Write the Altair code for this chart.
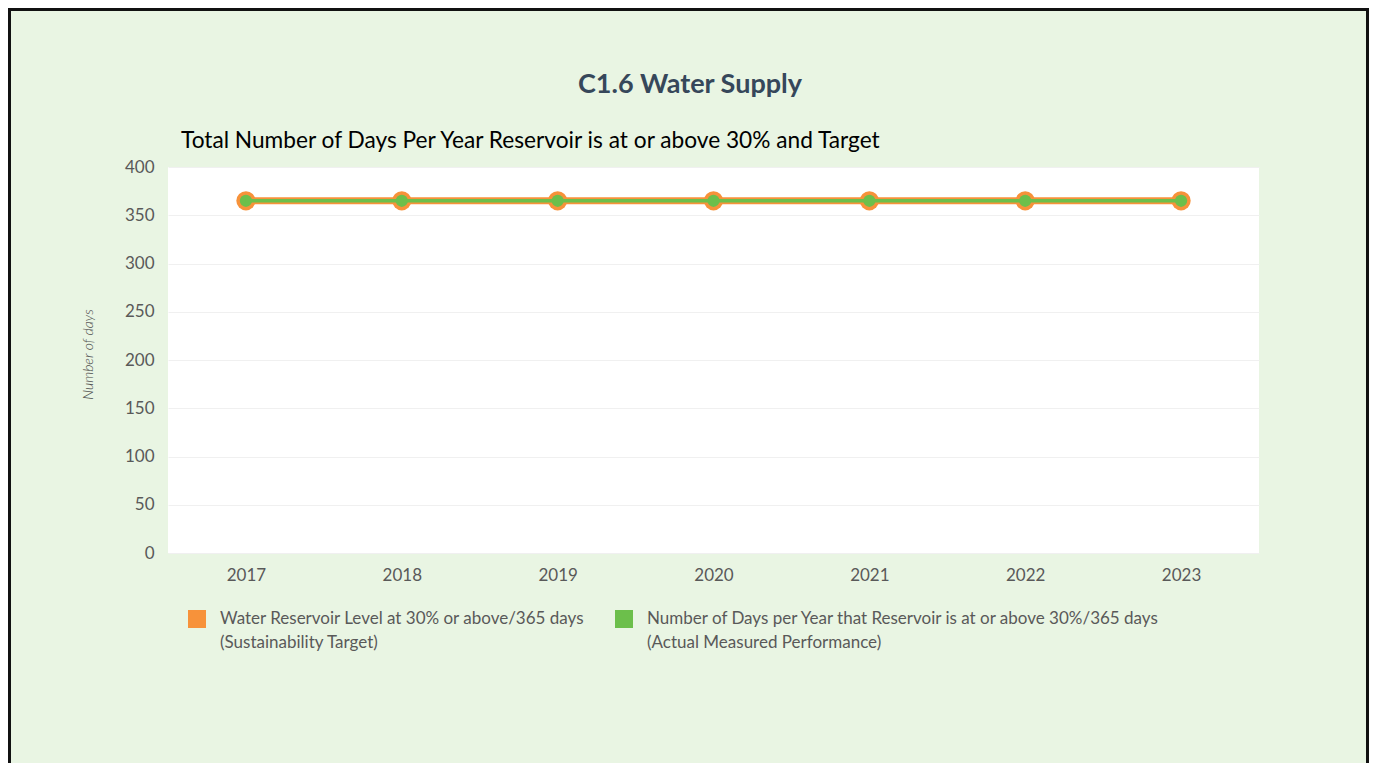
import altair as alt
import pandas as pd

years = ["2017", "2018", "2019", "2020", "2021", "2022", "2023"]
target_values = [365, 365, 365, 365, 365, 365, 365]
actual_values = [365, 365, 365, 365, 365, 365, 365]
series_names = [
    "Water Reservoir Level at 30% or above/365 days\n(Sustainability Target)",
    "Number of Days per Year that Reservoir is at or above 30%/365 days\n(Actual Measured Performance)",
]
series_colors = ["#f7923a", "#6cbf4b"]
y_ticks = [0, 50, 100, 150, 200, 250, 300, 350, 400]
main_title = "C1.6 Water Supply"
sub_title = "Total Number of Days Per Year Reservoir is at or above 30% and Target"
y_title = "Number of days"

rows = []
for y, v in zip(years, target_values):
    rows.append({"year": y, "series": series_names[0], "days": v})
for y, v in zip(years, actual_values):
    rows.append({"year": y, "series": series_names[1], "days": v})
df = pd.DataFrame(rows)

W, H = 1091, 386
PL, PT, PR, PB = 160, 159, 110, 210
FONT = "Lato"
LBL = 17

color_scale = alt.Scale(domain=series_names, range=series_colors)
x_enc = alt.X(
    "year:O",
    sort=years,
    scale=alt.Scale(paddingInner=0, paddingOuter=0),
    axis=alt.Axis(
        title=None, labelAngle=0, labelPadding=14, ticks=False, domain=False,
        labelFont=FONT, labelFontSize=LBL, labelFontWeight="normal",
        labelColor="#595959", grid=False,
    ),
)
y_enc = alt.Y(
    "days:Q",
    scale=alt.Scale(domain=[0, 400], nice=False),
    axis=alt.Axis(
        values=y_ticks, title=y_title, ticks=False, domain=False,
        labelPadding=14, labelFont=FONT, labelFontSize=LBL, labelFontWeight="normal",
        labelColor="#595959",
        grid=True, gridColor="#f0f0f0", gridWidth=1,
        titleFont=FONT, titleFontSize=14, titleFontStyle="italic",
        titleFontWeight=300, titleColor="#4d4d4d",
        titleAngle=-90, titleX=-80, titleY=187,
        titleAlign="center", titleBaseline="middle",
    ),
)

base = alt.Chart(df).encode(x=x_enc, y=y_enc)

legend = alt.Legend(
    title=None, orient="none", legendX=20, legendY=443, direction="horizontal",
    columns=2, columnPadding=30, symbolType="square", symbolSize=324,
    symbolStrokeWidth=0, labelFont=FONT, labelFontSize=LBL, labelFontWeight="normal",
    labelColor="#595959",
    labelOffset=14, labelLimit=600, padding=0,
    labelExpr="split(datum.label, '\\n')",
)
color_enc = alt.Color("series:N", scale=color_scale, legend=legend)

line_t = base.transform_filter(alt.datum.series == series_names[0]).mark_line(
    strokeWidth=7
).encode(color=color_enc)
point_t = base.transform_filter(alt.datum.series == series_names[0]).mark_point(
    filled=True, shape="circle", size=370, opacity=1
).encode(color=color_enc)
line_a = base.transform_filter(alt.datum.series == series_names[1]).mark_line(
    strokeWidth=3.5
).encode(color=color_enc)
point_a = base.transform_filter(alt.datum.series == series_names[1]).mark_point(
    filled=True, shape="circle", size=150, opacity=1
).encode(color=color_enc)

one = pd.DataFrame({"k": [0]})
frame = alt.Chart(one).mark_rect(fill=None, stroke="#111111", strokeWidth=3).encode(
    x=alt.value(-PL + 1.5), x2=alt.value(W + PR - 1.5),
    y=alt.value(-PT + 1.5), y2=alt.value(H + PB + 30),
)
t1 = alt.Chart(one).mark_text(
    text=main_title, font=FONT, fontSize=27, fontWeight="bold", color="#36475a",
    align="center", baseline="middle",
).encode(x=alt.value(522), y=alt.value(-82))
t2 = alt.Chart(one).mark_text(
    text=sub_title, font=FONT, fontSize=22.7, color="#000000",
    align="left", baseline="middle",
).encode(x=alt.value(13), y=alt.value(-26))

chart = alt.layer(point_t, line_t, point_a, line_a, frame, t1, t2).properties(
    width=W, height=H,
    background="#e9f5e3",
    padding={"left": PL, "top": PT, "right": PR, "bottom": PB},
    autosize=alt.AutoSizeParams(type="none"),
).configure(
    view={"fill": "white", "strokeWidth": 0},
    style={"guide-label": {"lineHeight": 24}},
)

chart.save("out.html", embed_options={"renderer": "svg", "actions": False})
